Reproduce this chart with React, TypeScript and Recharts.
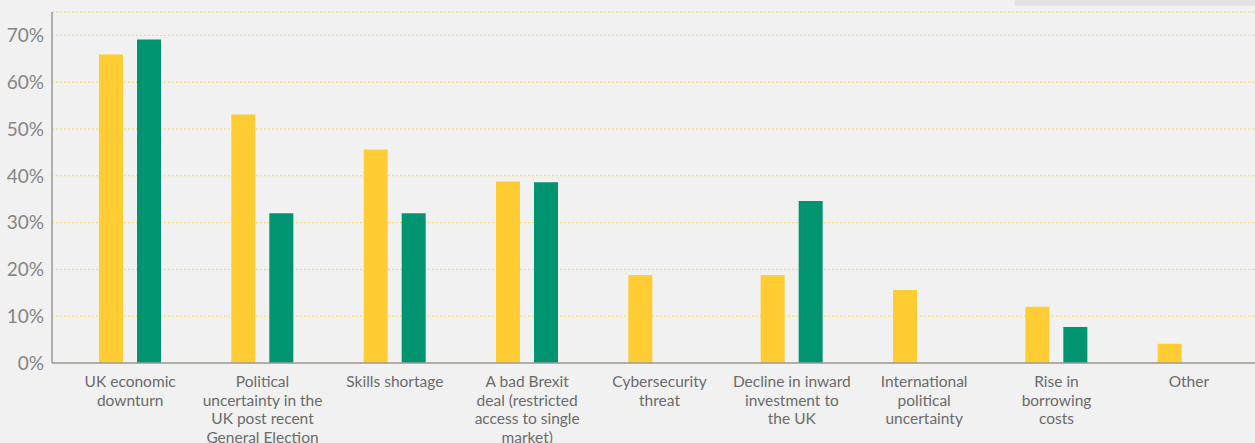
import React from 'react';
import { BarChart, Bar, XAxis, YAxis, CartesianGrid } from 'recharts';

// category labels, '\n' marks where the original wraps
const categories = [
  'UK economic\ndownturn',
  'Political\nuncertainty in the\nUK post recent\nGeneral Election',
  'Skills shortage',
  'A bad Brexit\ndeal (restricted\naccess to single\nmarket)',
  'Cybersecurity\nthreat',
  'Decline in inward\ninvestment to\nthe UK',
  'International\npolitical\nuncertainty',
  'Rise in\nborrowing\ncosts',
  'Other',
];

const seriesA = [65.9, 53.1, 45.6, 38.8, 18.8, 18.8, 15.6, 12.0, 4.1];
const seriesB = [69.1, 32.0, 32.0, 38.6, null, 34.6, null, 7.7, null];

const yTicks = [0, 10, 20, 30, 40, 50, 60, 70];

const data = categories.map((name, i) => ({ name, a: seriesA[i], b: seriesB[i] }));

const FONT = 'Lato, "Open Sans", sans-serif';

function CategoryTick(props: any) {
  const { x, y, payload } = props;
  const lines = String(payload.value).split('\n');
  return (
    <g transform={`translate(${x},${y})`}>
      <text textAnchor="middle" fill="#6b6b6b" fontSize={15.5} fontFamily={FONT}>
        {lines.map((line, i) => (
          <tspan key={i} x={0} y={22 + i * 18.7}>
            {line}
          </tspan>
        ))}
      </text>
    </g>
  );
}

export default function App() {
  return (
    <div style={{ position: 'relative', width: 1255, height: 443, background: '#f1f1f1', overflow: 'hidden' }}>
      <style>{'body{margin:0}'}</style>
      <div style={{ position: 'absolute', left: 1015, top: 0, width: 240, height: 6, background: '#e2e2e2' }} />
      <BarChart
        width={1255}
        height={443}
        data={data}
        margin={{ top: 12, right: 0, bottom: 0, left: 0 }}
        barSize={24}
        barGap={14}
      >
        <CartesianGrid vertical={false} stroke="#f9cf45" strokeDasharray="1.5 2.5" />
        <XAxis
          dataKey="name"
          height={80}
          interval={0}
          tickLine={false}
          tickSize={0}
          axisLine={{ stroke: '#9a9a9a', strokeWidth: 1.5 }}
          padding={{ left: 12, right: 0 }}
          tick={<CategoryTick />}
        />
        <YAxis
          width={52}
          domain={[0, 75]}
          ticks={yTicks}
          tickLine={false}
          tickSize={0}
          tickMargin={8}
          axisLine={{ stroke: '#9a9a9a', strokeWidth: 1.5 }}
          tickFormatter={(v) => `${v}%`}
          tick={{ fill: '#858585', fontSize: 19, fontFamily: FONT }}
        />
        <Bar dataKey="a" fill="#ffcd33" isAnimationActive={false} />
        <Bar dataKey="b" fill="#009470" isAnimationActive={false} />
      </BarChart>
    </div>
  );
}
